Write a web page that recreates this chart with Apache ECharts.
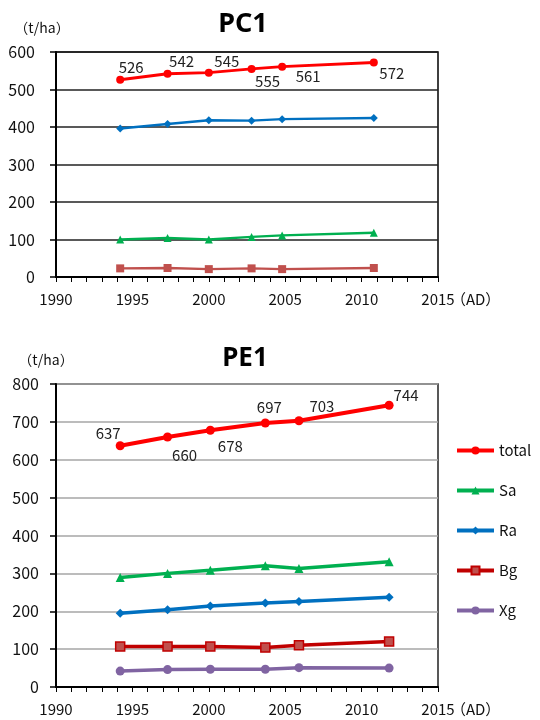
<!DOCTYPE html>
<html>
<head>
<meta charset="utf-8">
<script src="https://cdn.jsdelivr.net/npm/echarts@6/dist/echarts.min.js"></script>
<style>
  html, body { margin: 0; padding: 0; background: #fff; }
  #chart { width: 540px; height: 720px; }
</style>
</head>
<body>
<div id="chart"></div>
<script>
// ---- PC1 plot ----
const pcYears = [1994.2, 1997.3, 2000.0, 2002.8, 2004.8, 2010.8];
const pcTotal = [526, 542, 545, 555, 561, 572];
const pcRa    = [396, 408, 418, 417, 421, 424];
const pcSa    = [100, 104, 100, 107, 111, 118];
const pcBg    = [23, 24, 21, 23, 21, 24];

// ---- PE1 plot ----
const peYears = [1994.2, 1997.3, 2000.1, 2003.7, 2005.9, 2011.8];
const peTotal = [637, 660, 678, 697, 703, 744];
const peSa    = [289, 300, 308, 320, 313, 331];
const peRa    = [195, 204, 214, 222, 226, 237];
const peBg    = [107, 107, 107, 104, 110, 120];
const peXg    = [42, 46, 47, 47, 51, 50];

// axis ranges / ticks
const xMin = 1990, xMax = 2015, xStep = 5;
const pcYMax = 600, peYMax = 800, yStep = 100;

// label placement for the total values (offset from each point)
const pcLabelOffsets = [[11, -12], [14, -12], [18, -11], [16, 12], [26, 10], [18, 11]];
const peLabelOffsets = [[-12, -12], [17, 18], [20, 16], [4, -16], [23, -14], [17, -10]];

const FONT = '"Noto Sans CJK JP", "Noto Sans", sans-serif';

function pairs(xs, ys) { return xs.map((x, i) => [x, ys[i]]); }
function labelled(xs, ys, offs) {
  return xs.map((x, i) => ({
    value: [x, ys[i]],
    label: { show: true, position: 'inside', offset: offs[i] }
  }));
}

function xAxisFor(gridIndex) {
  return {
    type: 'value', gridIndex, min: xMin, max: xMax, interval: xStep,
    axisLine: { show: true, lineStyle: { color: '#000', width: 2 } },
    axisTick: { show: true, inside: false, length: 5, lineStyle: { color: '#000', width: 1 } },
    minorTick: { show: true, splitNumber: 5, length: 5, lineStyle: { color: '#000', width: 1 } },
    splitLine: { show: false },
    axisLabel: {
      margin: 15, color: '#111', fontSize: 15, fontFamily: FONT,
      formatter: v => v === xMax ? '{pad|}{n|' + v + '}{u|（AD）}' : String(v),
      rich: {
        n: { fontSize: 15, fontFamily: FONT, color: '#111' },
        pad: { width: 42 },
        u: { width: 42, fontSize: 15, fontFamily: FONT, color: '#111' }
      }
    }
  };
}

function yAxisFor(gridIndex, max, gridColor, margin, namePad) {
  return {
    type: 'value', gridIndex, min: 0, max, interval: yStep,
    name: '（t/ha）', nameLocation: 'end', nameGap: 17,
    nameTextStyle: { color: '#111', fontSize: 14, fontFamily: FONT, padding: namePad },
    axisLine: { show: true, lineStyle: { color: '#000', width: 2 } },
    axisTick: { show: true, inside: false, length: 6, lineStyle: { color: '#000', width: 1.5 } },
    splitLine: { show: true, lineStyle: { color: gridColor, width: 1.5 } },
    axisLabel: { margin, color: '#111', fontSize: 16, fontFamily: FONT }
  };
}

const labelStyle = { color: '#222', fontSize: 15, fontFamily: FONT };

const option = {
  backgroundColor: '#fff',
  animation: false,
  title: [
    { text: 'PC1', left: 238, top: 6, textAlign: 'center',
      textStyle: { fontSize: 27, fontWeight: 'bold', color: '#000', fontFamily: '"Noto Sans", sans-serif' } },
    { text: 'PE1', left: 240, top: 341, textAlign: 'center',
      textStyle: { fontSize: 26, fontWeight: 'bold', color: '#000', fontFamily: '"Noto Sans", sans-serif' } }
  ],
  legend: {
    data: ['total', 'Sa', 'Ra', 'Bg', 'Xg'],
    orient: 'vertical', left: 450, top: 438,
    itemWidth: 37, itemHeight: 10, itemGap: 25,
    lineStyle: { width: 4 },
    textStyle: { color: '#111', fontSize: 15, fontFamily: FONT },
    selectedMode: false
  },
  grid: [
    { left: 56, right: 102, top: 52, height: 225, show: true, borderColor: '#000', borderWidth: 1.5, backgroundColor: 'transparent' },
    { left: 56, right: 102, top: 384, height: 303, show: true, borderColor: '#222', borderWidth: 1.5, backgroundColor: 'transparent' }
  ],
  xAxis: [xAxisFor(0), xAxisFor(1)],
  yAxis: [
    yAxisFor(0, pcYMax, '#222', 21, [0, 28, 0, 0]),
    yAxisFor(1, peYMax, '#A6A6A6', 17, [0, 20, 0, 0])
  ],
  series: [
    // PE1
    { name: 'total', type: 'line', xAxisIndex: 1, yAxisIndex: 1,
      data: labelled(peYears, peTotal, peLabelOffsets),
      symbol: 'circle', symbolSize: 9, z: 5,
      itemStyle: { color: '#FF0000' }, lineStyle: { color: '#FF0000', width: 4 },
      label: labelStyle },
    { name: 'Sa', type: 'line', xAxisIndex: 1, yAxisIndex: 1, data: pairs(peYears, peSa),
      symbol: 'triangle', symbolSize: 9,
      itemStyle: { color: '#00B050' }, lineStyle: { color: '#00B050', width: 3.5 } },
    { name: 'Ra', type: 'line', xAxisIndex: 1, yAxisIndex: 1, data: pairs(peYears, peRa),
      symbol: 'diamond', symbolSize: 9,
      itemStyle: { color: '#0070C0' }, lineStyle: { color: '#0070C0', width: 3.5 } },
    { name: 'Bg', type: 'line', xAxisIndex: 1, yAxisIndex: 1, data: pairs(peYears, peBg),
      symbol: 'rect', symbolSize: 9,
      itemStyle: { color: '#C0504D', borderColor: '#C00000', borderWidth: 1.5 },
      lineStyle: { color: '#C00000', width: 3.5 } },
    { name: 'Xg', type: 'line', xAxisIndex: 1, yAxisIndex: 1, data: pairs(peYears, peXg),
      symbol: 'circle', symbolSize: 9,
      itemStyle: { color: '#8064A2' }, lineStyle: { color: '#8064A2', width: 3.5 } },
    // PC1
    { name: 'total', type: 'line', xAxisIndex: 0, yAxisIndex: 0,
      data: labelled(pcYears, pcTotal, pcLabelOffsets),
      symbol: 'circle', symbolSize: 8, z: 5,
      itemStyle: { color: '#FF0000' }, lineStyle: { color: '#FF0000', width: 3 },
      label: labelStyle },
    { name: 'Ra', type: 'line', xAxisIndex: 0, yAxisIndex: 0, data: pairs(pcYears, pcRa),
      symbol: 'diamond', symbolSize: 8,
      itemStyle: { color: '#0070C0' }, lineStyle: { color: '#0070C0', width: 2.5 } },
    { name: 'Sa', type: 'line', xAxisIndex: 0, yAxisIndex: 0, data: pairs(pcYears, pcSa),
      symbol: 'triangle', symbolSize: 8,
      itemStyle: { color: '#00B050' }, lineStyle: { color: '#00B050', width: 2.5 } },
    { name: 'Bg', type: 'line', xAxisIndex: 0, yAxisIndex: 0, data: pairs(pcYears, pcBg),
      symbol: 'rect', symbolSize: 8,
      itemStyle: { color: '#C0504D' }, lineStyle: { color: '#C0504D', width: 2.5 } }
  ]
};

const chart = echarts.init(document.getElementById('chart'), null, { renderer: 'canvas' });
chart.setOption(option);
</script>
</body>
</html>
